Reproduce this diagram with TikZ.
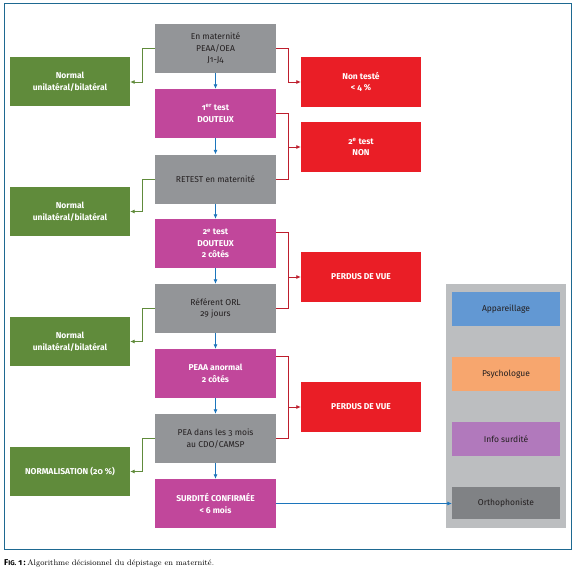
\documentclass[tikz,border=0pt]{standalone}
\usepackage{fontspec}
\newfontfamily\fira{Fira Sans}[Numbers=OldStyle]
\usetikzlibrary{arrows.meta,positioning}
\definecolor{cgray}{RGB}{147,149,152}
\definecolor{cmag}{RGB}{193,71,155}
\definecolor{cgreen}{RGB}{96,139,59}
\definecolor{cred}{RGB}{234,30,38}
\definecolor{cblue}{RGB}{28,117,188}
\definecolor{cframe}{RGB}{30,105,145}
\definecolor{cdred}{RGB}{190,30,45}
\definecolor{cpanel}{RGB}{188,190,192}
\definecolor{capp}{RGB}{98,152,211}
\definecolor{cpsy}{RGB}{247,166,110}
\definecolor{cinfo}{RGB}{177,121,188}
\definecolor{cortho}{RGB}{128,130,133}
\definecolor{ctext}{RGB}{35,31,32}
\begin{document}
\begin{tikzpicture}[x=1pt,y=-1pt,
  box/.style={inner sep=0pt,align=center,font=\fira\fontsize{8.5}{11.5}\selectfont},
  bbox/.style={box,font=\fira\bfseries\fontsize{8.5}{11.5}\selectfont},
  graybox/.style={box,fill=cgray,text=ctext,minimum width=121pt,minimum height=49pt},
  magbox/.style={bbox,fill=cmag,text=white,minimum width=121pt,minimum height=49pt},
  greenbox/.style={bbox,fill=cgreen,text=white,minimum width=120pt,minimum height=49pt},
  redbox/.style={bbox,fill=cred,text=white,minimum width=120pt,minimum height=50pt},
  sidebox/.style={box,text=ctext,minimum width=108pt,minimum height=34pt},
  barrow/.style={draw=cblue,line width=0.8pt,-{Latex[length=4.5pt,width=4pt]}},
  garrow/.style={draw=cgreen,line width=0.8pt,-{Latex[length=4.5pt,width=4pt]}},
  rline/.style={draw=cdred,line width=0.8pt},
  rarrow/.style={draw=cdred,line width=0.8pt,-{Latex[length=4.5pt,width=4pt]}}
]
\useasboundingbox (0,0) rectangle (577,572);
\fill[white] (0,0) rectangle (577,572);
% frame
\draw[cframe,line width=0.8pt] (4,3) rectangle (571.5,549);
% right panel
\fill[cpanel] (446,284) rectangle (566,528);
% central column
\node[graybox] (b1) at (215.5,48.5) {En maternité\\PEAA/OEA\\J1-J4};
\node[magbox] (b2) at (215.5,113.5) {1\textsuperscript{er} test\\DOUTEUX};
\node[graybox] (b3) at (215.5,179) {RETEST en maternité};
\node[magbox] (b4) at (215.5,243.5) {2\textsuperscript{e} test\\DOUTEUX\\2 côtés};
\node[graybox] (b5) at (215.5,308.5) {Référent ORL\\29 jours};
\node[magbox] (b6) at (215.5,373.5) {PEAA anormal\\2 côtés};
\node[graybox] (b7) at (215.5,438.5) {PEA dans les 3 mois\\au CDO/CAMSP};
\node[magbox] (b8) at (215.5,503.5) {SURDITÉ CONFIRMÉE\\< 6 mois};
% green
\node[greenbox] (g1) at (70,82) {Normal\\unilatéral/bilatéral};
\node[greenbox] (g2) at (70,211.5) {Normal\\unilatéral/bilatéral};
\node[greenbox] (g3) at (70,341.5) {Normal\\unilatéral/bilatéral};
\node[greenbox] (g4) at (70,471.5) {NORMALISATION (20 \%)};
% red
\node[redbox] (r1) at (361,82) {Non testé\\< 4 \%};
\node[redbox] (r2) at (361,147) {2\textsuperscript{e} test\\NON};
\node[redbox] (r3) at (361,277) {PERDUS DE VUE};
\node[redbox] (r4) at (361,407) {PERDUS DE VUE};
% side boxes
\node[sidebox,fill=capp] (s1) at (506,309) {Appareillage};
\node[sidebox,fill=cpsy] (s2) at (506,374) {Psychologue};
\node[sidebox,fill=cinfo] (s3) at (506,439) {Info surdité};
\node[sidebox,fill=cortho,minimum height=32pt] (s4) at (506,503) {Orthophoniste};
% blue vertical arrows
\foreach \a/\b in {b1/b2,b2/b3,b3/b4,b4/b5,b5/b6,b6/b7,b7/b8}
  \draw[barrow] (\a.south) -- (\b.north);
\draw[barrow] (b8.east) -- (b8.east -| s4.west);
% green connectors
\draw[garrow] (b1.west) -- ++(-12,0) |- (g1.east);
\draw[garrow] (b3.west) -- ++(-12,0) |- (g2.east);
\draw[garrow] (b5.west) -- ++(-12,0) |- (g3.east);
\draw[garrow] (b7.west) -- ++(-12,0) |- (g4.east);
% red connectors
\draw[rarrow] (b1.east) -- ++(12,0) |- (r1.west);
\draw[rline] (b2.east) -- ++(12,0) coordinate (j2) |- (b3.east);
\draw[rarrow] (j2 |- r2.west) -- (r2.west);
\draw[rline] ([yshift=11.5pt]b4.east) -- ++(12,0) coordinate (j3) |- (b5.east);
\draw[rarrow] (j3 |- r3.west) -- (r3.west);
\draw[rline] ([yshift=17.5pt]b6.east) -- ++(12,0) coordinate (j4) |- (b7.east);
\draw[rarrow] (j4 |- r4.west) -- (r4.west);
% caption
\node[anchor=base west,inner sep=0pt] (cap) at (4,565.5) {{\fira\bfseries\fontsize{8.5}{10}\selectfont F{\fontsize{6.8}{10}\selectfont IG.} 1\,:}\,{\fontsize{8}{10}\selectfont Algorithme décisionnel du dépistage en maternité.}};
\end{tikzpicture}
\end{document}
